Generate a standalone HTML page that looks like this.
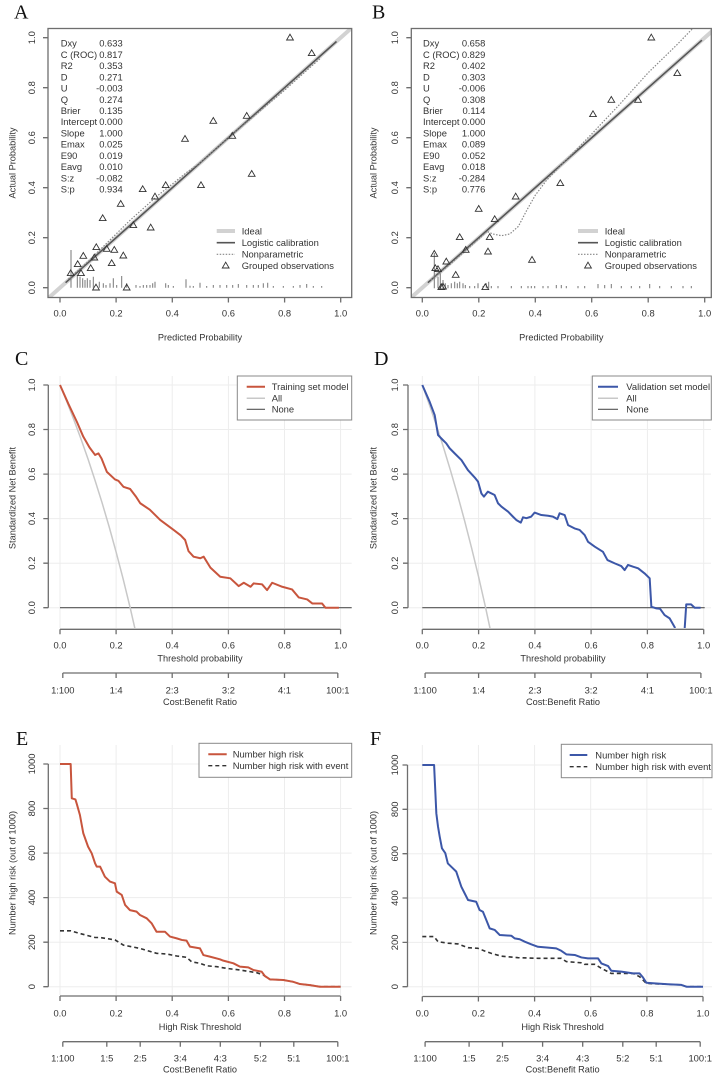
<!DOCTYPE html>
<html><head><meta charset="utf-8"><style>
html,body{margin:0;padding:0;background:#fff;}
svg{display:block;}
text{font-family:"Liberation Sans",Arial,sans-serif;fill:#333;font-size:9.4px;}
.L{font-family:"Liberation Serif","Times New Roman",serif;font-size:20px;fill:#111;}
.d polyline,.d line,.d path{vector-effect:non-scaling-stroke;}
.ax{stroke:#6e6e6e;stroke-width:1.3;fill:none;}
.gr{stroke:#ededed;stroke-width:1;fill:none;}
.tri{stroke:#333;stroke-width:0.9;fill:none;}
.rug{stroke:#777;stroke-width:1;fill:none;}
</style></head><body>
<svg width="718" height="1076" viewBox="0 0 718 1076" xmlns="http://www.w3.org/2000/svg">
<defs>
<clipPath id="cA"><rect x="48" y="28.5" width="303.7" height="269"/></clipPath>
<clipPath id="cB"><rect x="411.3" y="28.5" width="300" height="269"/></clipPath>
<clipPath id="cC"><rect x="44" y="370" width="310" height="258"/></clipPath>
<clipPath id="cD"><rect x="405" y="370" width="310" height="258"/></clipPath>
</defs>

<!-- ================= PANEL A ================= -->
<text class="L" x="14" y="18.5">A</text>
<g clip-path="url(#cA)">
<line x1="46" y1="300.2" x2="354.7" y2="25.2" stroke="#d2d2d2" stroke-width="4"/>
<line x1="65.6" y1="282.7" x2="336.5" y2="41.5" stroke="#555" stroke-width="1.6"/>
<polyline fill="none" stroke="#888" stroke-width="1.2" stroke-dasharray="1.5 1.5" points="68.4,279 88.1,261.5 102.1,247.7 116.1,234 130.2,220.2 144.2,207.7 158.2,195.2 172.3,184 186.3,172.7 200.4,162.7 228.4,137.7 256.5,114 284.6,90.2 312.6,65.2 321.1,57.7"/>
</g>
<path class="rug" d="M71 287.7V250M77.3 287.7V275M80 287.7V276.7M82.7 287.7V278.3M85 287.7V280M87.3 287.7V278.3M90 287.7V280M93.3 287.7V276.7M99.3 287.7V281.7M103.3 287.7V283.3M106 287.7V285M110 287.7V283.3M113.3 287.7V278.3M116.7 287.7V285M121.7 287.7V276M126.7 287.7V283.3M136 287.7V285M140 287.7V286M143.3 287.7V285M146.7 287.7V285M150 287.7V285M152.7 287.7V283.3M155 287.7V281.7M165.7 287.7V283.3M168.3 287.7V285M173.3 287.7V286M186 287.7V279.3M190 287.7V285.7M193.3 287.7V286M200 287.7V282.7M206.7 287.7V286M213.3 287.7V285M220 287.7V285M226.7 287.7V285M232.7 287.7V285M238.3 287.7V284M246.7 287.7V285M253.3 287.7V285M258.3 287.7V285M263.3 287.7V283.3M267.7 287.7V282.7M273.3 287.7V286M283.3 287.7V286M293.3 287.7V286M300 287.7V285M306.7 287.7V284M313.3 287.7V286M321.7 287.7V286"/>
<path class="tri" d="M290 37.7m0-3.5l3.4 5.8h-6.8zM311.7 53.3m0-3.5l3.4 5.8h-6.8zM213.3 121m0-3.5l3.4 5.8h-6.8zM185 139m0-3.5l3.4 5.8h-6.8zM232.3 136m0-3.5l3.4 5.8h-6.8zM246.7 116m0-3.5l3.4 5.8h-6.8zM201 185.3m0-3.5l3.4 5.8h-6.8zM251.7 174m0-3.5l3.4 5.8h-6.8zM165.7 185.3m0-3.5l3.4 5.8h-6.8zM155 196.7m0-3.5l3.4 5.8h-6.8zM142.7 189.3m0-3.5l3.4 5.8h-6.8zM120.7 204m0-3.5l3.4 5.8h-6.8zM102.7 218.3m0-3.5l3.4 5.8h-6.8zM133.3 225.3m0-3.5l3.4 5.8h-6.8zM150.7 227.7m0-3.5l3.4 5.8h-6.8zM106.7 249m0-3.5l3.4 5.8h-6.8zM114.3 250m0-3.5l3.4 5.8h-6.8zM96.3 247.3m0-3.5l3.4 5.8h-6.8zM83.3 256m0-3.5l3.4 5.8h-6.8zM77.7 264.3m0-3.5l3.4 5.8h-6.8zM90.7 268.3m0-3.5l3.4 5.8h-6.8zM94.3 257.7m0-3.5l3.4 5.8h-6.8zM123.3 255.7m0-3.5l3.4 5.8h-6.8zM111.7 263.3m0-3.5l3.4 5.8h-6.8zM70.7 273.3m0-3.5l3.4 5.8h-6.8zM81 273.3m0-3.5l3.4 5.8h-6.8zM96 287.7m0-3.5l3.4 5.8h-6.8zM126.7 287.7m0-3.5l3.4 5.8h-6.8z"/>
<rect x="48" y="28.5" width="303.7" height="269" class="ax"/>
<path class="ax" d="M60 297.5v5M116.1 297.5v5M172.3 297.5v5M228.4 297.5v5M284.6 297.5v5M340.7 297.5v5M48 287.7h-5M48 237.7h-5M48 187.7h-5M48 137.7h-5M48 87.7h-5M48 37.7h-5"/>
<g text-anchor="middle">
<text x="60" y="316.7">0.0</text><text x="116.1" y="316.7">0.2</text><text x="172.3" y="316.7">0.4</text><text x="228.4" y="316.7">0.6</text><text x="284.6" y="316.7">0.8</text><text x="340.7" y="316.7">1.0</text>
<text transform="translate(35.1,287.7) rotate(-90)">0.0</text><text transform="translate(35.1,237.7) rotate(-90)">0.2</text><text transform="translate(35.1,187.7) rotate(-90)">0.4</text><text transform="translate(35.1,137.7) rotate(-90)">0.6</text><text transform="translate(35.1,87.7) rotate(-90)">0.8</text><text transform="translate(35.1,37.7) rotate(-90)">1.0</text>
<text x="200" y="340.5" style="font-size:9.2px">Predicted Probability</text>
<text transform="translate(15.5,163) rotate(-90)" style="font-size:9.2px">Actual Probability</text>
</g>
<g style="font-size:9.3px">
<text x="60.7" y="46.6">Dxy</text><text x="60.7" y="57.8">C (ROC)</text><text x="60.7" y="69.1">R2</text><text x="60.7" y="80.3">D</text><text x="60.7" y="91.5">U</text><text x="60.7" y="102.8">Q</text><text x="60.7" y="114">Brier</text><text x="60.7" y="125.2">Intercept</text><text x="60.7" y="136.4">Slope</text><text x="60.7" y="147.7">Emax</text><text x="60.7" y="158.9">E90</text><text x="60.7" y="170.1">Eavg</text><text x="60.7" y="181.4">S:z</text><text x="60.7" y="192.6">S:p</text>
</g>
<g style="font-size:9.3px" text-anchor="end">
<text x="122.7" y="46.6">0.633</text><text x="122.7" y="57.8">0.817</text><text x="122.7" y="69.1">0.353</text><text x="122.7" y="80.3">0.271</text><text x="122.7" y="91.5">-0.003</text><text x="122.7" y="102.8">0.274</text><text x="122.7" y="114">0.135</text><text x="122.7" y="125.2">0.000</text><text x="122.7" y="136.4">1.000</text><text x="122.7" y="147.7">0.025</text><text x="122.7" y="158.9">0.019</text><text x="122.7" y="170.1">0.010</text><text x="122.7" y="181.4">-0.082</text><text x="122.7" y="192.6">0.934</text>
</g>
<line x1="216.7" y1="231" x2="235" y2="231" stroke="#d2d2d2" stroke-width="4"/>
<line x1="216.7" y1="242.7" x2="235" y2="242.7" stroke="#555" stroke-width="1.6"/>
<line x1="216.7" y1="254.3" x2="235" y2="254.3" stroke="#888" stroke-width="1.2" stroke-dasharray="1.5 1.5"/>
<path class="tri" d="M225.7 265.7m0-3.5l3.4 5.8h-6.8z"/>
<g style="font-size:9.3px">
<text x="241.7" y="234.3">Ideal</text><text x="241.7" y="246">Logistic calibration</text><text x="241.7" y="257.6">Nonparametric</text><text x="241.7" y="269">Grouped observations</text>
</g>

<!-- ================= PANEL B ================= -->
<text class="L" x="372" y="18.5">B</text>
<g clip-path="url(#cB)">
<line x1="408.2" y1="300.2" x2="718.8" y2="25.2" stroke="#d2d2d2" stroke-width="4"/>
<line x1="427.9" y1="282.7" x2="701.9" y2="40.2" stroke="#555" stroke-width="1.6"/>
<polyline fill="none" stroke="#888" stroke-width="1.2" stroke-dasharray="1.5 1.5" points="430.8,280.2 450.5,264 478.8,239 487.3,231.5 492.9,234 501.4,235.7 509.8,234 518.3,226.5 526.8,210.2 535.3,195.2 546.6,180.2 563.5,162.7 591.7,134 620,104 648.2,72.7 676.5,45.2 693.4,27.7"/>
</g>
<path class="rug" d="M434.3 288.3V253M438 288.3V276.7M440.3 288.3V273.3M443 288.3V280M445.3 288.3V283.3M448 288.3V285M451.3 288.3V283.3M454.7 288.3V281.7M457.3 288.3V283.3M459.7 288.3V281.7M463 288.3V283.3M465.3 288.3V285M469.7 288.3V286M474.7 288.3V286M478 288.3V283.3M483 288.3V286M486.3 288.3V283.3M488.7 288.3V281.7M491.3 288.3V286M498 288.3V286M511.3 288.3V286M521.3 288.3V286M528 288.3V286M531.3 288.3V286M534.7 288.3V286M543 288.3V286M548 288.3V286M556.3 288.3V285M561.3 288.3V285M566.3 288.3V286M578 288.3V286M584.7 288.3V286M598 288.3V284M604.7 288.3V285M611.3 288.3V284M621.3 288.3V286M631.3 288.3V286M639.7 288.3V286M649.7 288.3V284M659.7 288.3V286M671.3 288.3V286M683 288.3V286M691.3 288.3V286"/>
<path class="tri" d="M651.3 37.7m0-3.5l3.4 5.8h-6.8zM677.3 73.3m0-3.5l3.4 5.8h-6.8zM611.3 100m0-3.5l3.4 5.8h-6.8zM638 100m0-3.5l3.4 5.8h-6.8zM593 114.3m0-3.5l3.4 5.8h-6.8zM560.3 183.3m0-3.5l3.4 5.8h-6.8zM515.7 196.7m0-3.5l3.4 5.8h-6.8zM478.7 209m0-3.5l3.4 5.8h-6.8zM494.7 219.3m0-3.5l3.4 5.8h-6.8zM459.7 237.3m0-3.5l3.4 5.8h-6.8zM489.7 237.3m0-3.5l3.4 5.8h-6.8zM465.7 250m0-3.5l3.4 5.8h-6.8zM488 251.7m0-3.5l3.4 5.8h-6.8zM532 260m0-3.5l3.4 5.8h-6.8zM446.3 261.7m0-3.5l3.4 5.8h-6.8zM434.3 254m0-3.5l3.4 5.8h-6.8zM455.7 275m0-3.5l3.4 5.8h-6.8zM435.3 268.3m0-3.5l3.4 5.8h-6.8zM438 269.3m0-3.5l3.4 5.8h-6.8zM443 286.7m0-3.5l3.4 5.8h-6.8zM485.3 287.3m0-3.5l3.4 5.8h-6.8zM441.3 287.3m0-3.5l3.4 5.8h-6.8z"/>
<rect x="411.3" y="28.5" width="300" height="269" class="ax"/>
<path class="ax" d="M422.3 297.5v5M478.8 297.5v5M535.3 297.5v5M591.7 297.5v5M648.2 297.5v5M704.7 297.5v5M411.3 287.7h-5M411.3 237.7h-5M411.3 187.7h-5M411.3 137.7h-5M411.3 87.7h-5M411.3 37.7h-5"/>
<g text-anchor="middle">
<text x="422.3" y="316.7">0.0</text><text x="478.8" y="316.7">0.2</text><text x="535.3" y="316.7">0.4</text><text x="591.7" y="316.7">0.6</text><text x="648.2" y="316.7">0.8</text><text x="704.7" y="316.7">1.0</text>
<text transform="translate(398.1,287.7) rotate(-90)">0.0</text><text transform="translate(398.1,237.7) rotate(-90)">0.2</text><text transform="translate(398.1,187.7) rotate(-90)">0.4</text><text transform="translate(398.1,137.7) rotate(-90)">0.6</text><text transform="translate(398.1,87.7) rotate(-90)">0.8</text><text transform="translate(398.1,37.7) rotate(-90)">1.0</text>
<text x="561.3" y="340.5" style="font-size:9.2px">Predicted Probability</text>
<text transform="translate(376.5,163) rotate(-90)" style="font-size:9.2px">Actual Probability</text>
</g>
<g style="font-size:9.3px">
<text x="423" y="46.6">Dxy</text><text x="423" y="57.8">C (ROC)</text><text x="423" y="69.1">R2</text><text x="423" y="80.3">D</text><text x="423" y="91.5">U</text><text x="423" y="102.8">Q</text><text x="423" y="114">Brier</text><text x="423" y="125.2">Intercept</text><text x="423" y="136.4">Slope</text><text x="423" y="147.7">Emax</text><text x="423" y="158.9">E90</text><text x="423" y="170.1">Eavg</text><text x="423" y="181.4">S:z</text><text x="423" y="192.6">S:p</text>
</g>
<g style="font-size:9.3px" text-anchor="end">
<text x="485.3" y="46.6">0.658</text><text x="485.3" y="57.8">0.829</text><text x="485.3" y="69.1">0.402</text><text x="485.3" y="80.3">0.303</text><text x="485.3" y="91.5">-0.006</text><text x="485.3" y="102.8">0.308</text><text x="485.3" y="114">0.114</text><text x="485.3" y="125.2">0.000</text><text x="485.3" y="136.4">1.000</text><text x="485.3" y="147.7">0.089</text><text x="485.3" y="158.9">0.052</text><text x="485.3" y="170.1">0.018</text><text x="485.3" y="181.4">-0.284</text><text x="485.3" y="192.6">0.776</text>
</g>
<line x1="578" y1="231" x2="598" y2="231" stroke="#d2d2d2" stroke-width="4"/>
<line x1="578" y1="242.7" x2="598" y2="242.7" stroke="#555" stroke-width="1.6"/>
<line x1="578" y1="254.3" x2="598" y2="254.3" stroke="#888" stroke-width="1.2" stroke-dasharray="1.5 1.5"/>
<path class="tri" d="M588 265.7m0-3.5l3.4 5.8h-6.8z"/>
<g style="font-size:9.3px">
<text x="604.7" y="234.3">Ideal</text><text x="604.7" y="246">Logistic calibration</text><text x="604.7" y="257.6">Nonparametric</text><text x="604.7" y="269">Grouped observations</text>
</g>

<!-- ================= PANEL C ================= -->
<text class="L" x="15" y="365">C</text>
<path class="gr" d="M60 376V628M116.1 376V628M172.2 376V628M228.4 376V628M284.5 376V628M340.6 376V628M48.3 607.7H351.7M48.3 563.2H351.7M48.3 518.6H351.7M48.3 474.1H351.7M48.3 429.5H351.7M48.3 385H351.7"/>
<line x1="60" y1="607.7" x2="351.7" y2="607.7" stroke="#555" stroke-width="1.2"/>
<g clip-path="url(#cC)">
<g class="d" transform="translate(60,607.7) scale(280.6,-222.7)">
<polyline fill="none" stroke="#c8c8c8" stroke-width="1.5" points="0,1 0.025,0.923 0.05,0.842 0.075,0.757 0.1,0.667 0.125,0.571 0.15,0.471 0.175,0.364 0.2,0.25 0.225,0.129 0.25,0 0.27,-0.11 0.28,-0.17"/>
<polyline fill="none" stroke="#c8553d" stroke-width="2" stroke-linejoin="round" points="0,1 0.03,0.915 0.06,0.835 0.083,0.768 0.105,0.72 0.125,0.686 0.137,0.693 0.148,0.67 0.167,0.61 0.196,0.576 0.208,0.57 0.226,0.543 0.25,0.533 0.27,0.5 0.286,0.469 0.32,0.44 0.357,0.394 0.405,0.349 0.43,0.325 0.446,0.304 0.458,0.254 0.476,0.229 0.5,0.222 0.512,0.229 0.536,0.18 0.571,0.139 0.607,0.132 0.637,0.097 0.655,0.112 0.679,0.094 0.69,0.109 0.72,0.105 0.738,0.079 0.756,0.112 0.792,0.094 0.827,0.082 0.851,0.046 0.881,0.037 0.899,0.019 0.934,0.019 0.946,0 0.994,0"/>
</g>
</g>
<path class="ax" d="M48.3 385V607.7M48.3 607.7h-5M48.3 563.2h-5M48.3 518.6h-5M48.3 474.1h-5M48.3 429.5h-5M48.3 385h-5"/>
<path class="ax" d="M60 629.3H340.6M60 629.3v5M116.1 629.3v5M172.2 629.3v5M228.4 629.3v5M284.5 629.3v5M340.6 629.3v5"/>
<path class="ax" d="M62.8 673H337.8M62.8 673v5M116.1 673v5M172.2 673v5M228.4 673v5M284.5 673v5M337.8 673v5"/>
<g text-anchor="middle">
<text transform="translate(35.1,607.7) rotate(-90)">0.0</text><text transform="translate(35.1,563.2) rotate(-90)">0.2</text><text transform="translate(35.1,518.6) rotate(-90)">0.4</text><text transform="translate(35.1,474.1) rotate(-90)">0.6</text><text transform="translate(35.1,429.5) rotate(-90)">0.8</text><text transform="translate(35.1,385) rotate(-90)">1.0</text>
<text transform="translate(15.5,498) rotate(-90)" style="font-size:9.2px">Standardized Net Benefit</text>
<text x="60" y="648.4">0.0</text><text x="116.1" y="648.4">0.2</text><text x="172.2" y="648.4">0.4</text><text x="228.4" y="648.4">0.6</text><text x="284.5" y="648.4">0.8</text><text x="340.6" y="648.4">1.0</text>
<text x="200" y="661.6" style="font-size:9.2px">Threshold probability</text>
<text x="62.8" y="693.4">1:100</text><text x="116.1" y="693.4">1:4</text><text x="172.2" y="693.4">2:3</text><text x="228.4" y="693.4">3:2</text><text x="284.5" y="693.4">4:1</text><text x="337.8" y="693.4">100:1</text>
<text x="200" y="705" style="font-size:9.2px">Cost:Benefit Ratio</text>
</g>
<rect x="237.3" y="376" width="114.4" height="44" fill="#fff" stroke="#888" stroke-width="1"/>
<line x1="246.7" y1="386.7" x2="265" y2="386.7" stroke="#c8553d" stroke-width="2"/>
<line x1="246.7" y1="398.3" x2="265" y2="398.3" stroke="#c8c8c8" stroke-width="1.5"/>
<line x1="246.7" y1="409.3" x2="265" y2="409.3" stroke="#555" stroke-width="1.2"/>
<g style="font-size:9.3px"><text x="271.7" y="390">Training set model</text><text x="271.7" y="401.6">All</text><text x="271.7" y="412.6">None</text></g>

<!-- ================= PANEL D ================= -->
<text class="L" x="374" y="365">D</text>
<path class="gr" d="M422.3 376V628M478.6 376V628M534.9 376V628M591.1 376V628M647.4 376V628M703.7 376V628M408 607.7H711M408 563.2H711M408 518.6H711M408 474.1H711M408 429.5H711M408 385H711"/>
<line x1="422.3" y1="607.7" x2="704.7" y2="607.7" stroke="#555" stroke-width="1.2"/>
<g clip-path="url(#cD)">
<g class="d" transform="translate(422.3,607.7) scale(281.4,-222.7)">
<polyline fill="none" stroke="#c8c8c8" stroke-width="1.5" points="0,1 0.025,0.912 0.05,0.819 0.075,0.721 0.1,0.617 0.125,0.508 0.15,0.392 0.175,0.269 0.2,0.139 0.225,0 0.25,-0.148"/>
<polyline fill="none" stroke="#3c57a8" stroke-width="2" stroke-linejoin="round" points="0,1 0.026,0.925 0.044,0.865 0.056,0.775 0.073,0.753 0.085,0.738 0.097,0.716 0.115,0.693 0.139,0.663 0.162,0.618 0.186,0.585 0.198,0.566 0.21,0.513 0.219,0.499 0.233,0.521 0.257,0.506 0.269,0.469 0.281,0.454 0.305,0.431 0.322,0.409 0.334,0.394 0.35,0.382 0.358,0.406 0.37,0.402 0.387,0.409 0.399,0.427 0.423,0.416 0.447,0.413 0.464,0.409 0.48,0.398 0.488,0.424 0.506,0.416 0.518,0.371 0.541,0.356 0.559,0.349 0.577,0.326 0.589,0.296 0.613,0.274 0.642,0.251 0.658,0.214 0.684,0.199 0.707,0.187 0.719,0.169 0.731,0.192 0.749,0.184 0.767,0.177 0.79,0.154 0.808,0.132 0.814,0.004 0.832,-0.003 0.845,-0.005 0.861,-0.033 0.879,-0.048 0.897,-0.088 0.905,-0.14 0.93,-0.14 0.938,0.015 0.955,0.015 0.968,0 0.989,0"/>
</g>
</g>
<path class="ax" d="M408 385V607.7M408 607.7h-5M408 563.2h-5M408 518.6h-5M408 474.1h-5M408 429.5h-5M408 385h-5"/>
<path class="ax" d="M422.3 629.3H703.7M422.3 629.3v5M478.6 629.3v5M534.9 629.3v5M591.1 629.3v5M647.4 629.3v5M703.7 629.3v5"/>
<path class="ax" d="M425.1 673H700.9M425.1 673v5M478.6 673v5M534.9 673v5M591.1 673v5M647.4 673v5M700.9 673v5"/>
<g text-anchor="middle">
<text transform="translate(398.1,607.7) rotate(-90)">0.0</text><text transform="translate(398.1,563.2) rotate(-90)">0.2</text><text transform="translate(398.1,518.6) rotate(-90)">0.4</text><text transform="translate(398.1,474.1) rotate(-90)">0.6</text><text transform="translate(398.1,429.5) rotate(-90)">0.8</text><text transform="translate(398.1,385) rotate(-90)">1.0</text>
<text transform="translate(376.5,498) rotate(-90)" style="font-size:9.2px">Standardized Net Benefit</text>
<text x="422.3" y="648.4">0.0</text><text x="478.6" y="648.4">0.2</text><text x="534.9" y="648.4">0.4</text><text x="591.1" y="648.4">0.6</text><text x="647.4" y="648.4">0.8</text><text x="703.7" y="648.4">1.0</text>
<text x="563" y="661.6" style="font-size:9.2px">Threshold probability</text>
<text x="425.1" y="693.4">1:100</text><text x="478.6" y="693.4">1:4</text><text x="534.9" y="693.4">2:3</text><text x="591.1" y="693.4">3:2</text><text x="647.4" y="693.4">4:1</text><text x="700.9" y="693.4">100:1</text>
<text x="563" y="705" style="font-size:9.2px">Cost:Benefit Ratio</text>
</g>
<rect x="592.3" y="376" width="119" height="44" fill="#fff" stroke="#888" stroke-width="1"/>
<line x1="598" y1="386.7" x2="618" y2="386.7" stroke="#3c57a8" stroke-width="2"/>
<line x1="598" y1="398.3" x2="618" y2="398.3" stroke="#c8c8c8" stroke-width="1.5"/>
<line x1="598" y1="409.3" x2="618" y2="409.3" stroke="#555" stroke-width="1.2"/>
<g style="font-size:9.3px"><text x="626.3" y="390">Validation set model</text><text x="626.3" y="401.6">All</text><text x="626.3" y="412.6">None</text></g>

<!-- ================= PANEL E ================= -->
<text class="L" x="16" y="745">E</text>
<path class="gr" d="M60 745V995M116.1 745V995M172.2 745V995M228.4 745V995M284.5 745V995M340.6 745V995M48.3 986.7H351.7M48.3 942.2H351.7M48.3 897.6H351.7M48.3 853.1H351.7M48.3 808.5H351.7M48.3 764H351.7"/>
<polyline fill="none" stroke="#333" stroke-width="1.6" stroke-dasharray="4 3" points="60,930.8 70.7,930.8 79.9,933.5 95.1,937.5 100.1,937.5 115,939.9 123.4,945.1 140,948.4 156.5,953.3 166.6,954 176.7,956 186.6,957.3 191.6,961.8 200,963.3 206.8,965.8 216.9,966.7 226.7,968.4 239.9,970 256.7,972.7 263.4,975.1 269.9,979.4 283.4,980 293.2,981.8 299.9,984 310,985.1 319.8,986.7 340.6,986.7"/>
<g class="d" transform="translate(60,986.7) scale(280.6,-0.2227)">
<polyline fill="none" stroke="#c8553d" stroke-width="2" stroke-linejoin="round" points="0,1000 0.038,1000 0.042,846 0.055,841 0.06,820 0.071,771 0.083,689 0.1,629 0.113,599 0.125,554 0.131,539 0.143,539 0.16,494 0.178,472 0.196,464 0.202,427 0.22,412 0.232,367 0.249,344 0.273,337 0.285,322 0.309,307 0.327,284 0.344,247 0.374,247 0.392,225 0.416,217 0.434,210 0.451,207 0.463,180 0.499,172 0.511,142 0.534,135 0.57,123 0.582,117 0.618,105 0.641,90 0.671,87 0.689,75 0.719,67 0.73,48 0.748,33 0.796,30 0.831,22 0.855,12 0.891,7 0.926,0 1,0"/>
</g>
<path class="ax" d="M48.3 764V986.7M48.3 986.7h-5M48.3 942.2h-5M48.3 897.6h-5M48.3 853.1h-5M48.3 808.5h-5M48.3 764h-5"/>
<path class="ax" d="M60 996H340.6M60 996v5M116.1 996v5M172.2 996v5M228.4 996v5M284.5 996v5M340.6 996v5"/>
<path class="ax" d="M62.8 1041.7H337.8M62.8 1041.7v5M106.8 1041.7v5M140.2 1041.7v5M180.3 1041.7v5M220.3 1041.7v5M260.4 1041.7v5M293.8 1041.7v5M337.8 1041.7v5"/>
<g text-anchor="middle">
<text transform="translate(35.1,986.7) rotate(-90)">0</text><text transform="translate(35.1,942.2) rotate(-90)">200</text><text transform="translate(35.1,897.6) rotate(-90)">400</text><text transform="translate(35.1,853.1) rotate(-90)">600</text><text transform="translate(35.1,808.5) rotate(-90)">800</text><text transform="translate(35.1,764) rotate(-90)">1000</text>
<text transform="translate(15.5,873) rotate(-90)" style="font-size:9.2px">Number high risk (out of 1000)</text>
<text x="60" y="1016.7">0.0</text><text x="116.1" y="1016.7">0.2</text><text x="172.2" y="1016.7">0.4</text><text x="228.4" y="1016.7">0.6</text><text x="284.5" y="1016.7">0.8</text><text x="340.6" y="1016.7">1.0</text>
<text x="200" y="1030" style="font-size:9.2px">High Risk Threshold</text>
<text x="62.8" y="1061.7">1:100</text><text x="106.8" y="1061.7">1:5</text><text x="140.2" y="1061.7">2:5</text><text x="180.3" y="1061.7">3:4</text><text x="220.3" y="1061.7">4:3</text><text x="260.4" y="1061.7">5:2</text><text x="293.8" y="1061.7">5:1</text><text x="337.8" y="1061.7">100:1</text>
<text x="200" y="1072.7" style="font-size:9.2px">Cost:Benefit Ratio</text>
</g>
<rect x="199" y="743.3" width="152.7" height="34" fill="#fff" stroke="#888" stroke-width="1"/>
<line x1="208.3" y1="754.3" x2="226.7" y2="754.3" stroke="#c8553d" stroke-width="2"/>
<line x1="208.3" y1="765.7" x2="226.7" y2="765.7" stroke="#333" stroke-width="1.4" stroke-dasharray="4 3"/>
<g style="font-size:9.3px"><text x="232.7" y="757.6">Number high risk</text><text x="232.7" y="769">Number high risk with event</text></g>

<!-- ================= PANEL F ================= -->
<text class="L" x="370" y="745">F</text>
<path class="gr" d="M422.3 745V995M478.4 745V995M534.6 745V995M590.7 745V995M646.9 745V995M703 745V995M407.5 986.7H712M407.5 942.4H712M407.5 898H712M407.5 853.7H712M407.5 809.3H712M407.5 765H712"/>
<polyline fill="none" stroke="#333" stroke-width="1.6" stroke-dasharray="4 3" points="422.3,936.6 434.1,936.6 438,941.7 447.8,943.2 457.9,943.9 468.1,947.7 477.9,948.3 484.6,951 491.4,953.4 501.2,956.1 518,957.7 538,958.3 561.2,958.3 566.3,961.6 581.5,962.8 584.5,964.3 594.6,964.3 601.4,968.3 611.2,973.4 633.1,973.4 639.6,976.7 646.3,983.4 667.9,984.3 681.4,984.9 686.4,986.7 703,986.7"/>
<g class="d" transform="translate(422.3,986.7) scale(280.7,-0.2217)">
<polyline fill="none" stroke="#3c57a8" stroke-width="2" stroke-linejoin="round" points="0,1000 0.042,1000 0.05,782 0.056,722 0.062,677 0.07,624 0.082,602 0.091,556 0.109,534 0.121,519 0.139,451 0.151,421 0.163,391 0.192,383 0.204,346 0.216,338 0.228,301 0.24,263 0.258,256 0.276,233 0.317,230 0.329,218 0.347,214 0.365,203 0.388,191 0.412,180 0.448,176 0.477,173 0.495,162 0.513,146 0.543,143 0.567,132 0.59,128 0.626,128 0.638,105 0.662,93 0.673,72 0.709,68 0.751,60 0.774,60 0.786,42 0.798,18 0.828,15 0.875,11 0.923,8 0.941,0 1,0"/>
</g>
<path class="ax" d="M407.5 765V986.7M407.5 986.7h-5M407.5 942.4h-5M407.5 898h-5M407.5 853.7h-5M407.5 809.3h-5M407.5 765h-5"/>
<path class="ax" d="M422.3 996.5H703M422.3 996.5v5M478.4 996.5v5M534.6 996.5v5M590.7 996.5v5M646.9 996.5v5M703 996.5v5"/>
<path class="ax" d="M425.1 1041.7H700.2M425.1 1041.7v5M469.1 1041.7v5M502.5 1041.7v5M542.6 1041.7v5M582.7 1041.7v5M622.8 1041.7v5M656.2 1041.7v5M700.2 1041.7v5"/>
<g text-anchor="middle">
<text transform="translate(398.1,986.7) rotate(-90)">0</text><text transform="translate(398.1,942.4) rotate(-90)">200</text><text transform="translate(398.1,898) rotate(-90)">400</text><text transform="translate(398.1,853.7) rotate(-90)">600</text><text transform="translate(398.1,809.3) rotate(-90)">800</text><text transform="translate(398.1,765) rotate(-90)">1000</text>
<text transform="translate(376.5,873) rotate(-90)" style="font-size:9.2px">Number high risk (out of 1000)</text>
<text x="422.3" y="1016.7">0.0</text><text x="478.4" y="1016.7">0.2</text><text x="534.6" y="1016.7">0.4</text><text x="590.7" y="1016.7">0.6</text><text x="646.9" y="1016.7">0.8</text><text x="703" y="1016.7">1.0</text>
<text x="562.6" y="1030" style="font-size:9.2px">High Risk Threshold</text>
<text x="425.1" y="1061.7">1:100</text><text x="469.1" y="1061.7">1:5</text><text x="502.5" y="1061.7">2:5</text><text x="542.6" y="1061.7">3:4</text><text x="582.7" y="1061.7">4:3</text><text x="622.8" y="1061.7">5:2</text><text x="656.2" y="1061.7">5:1</text><text x="700.2" y="1061.7">100:1</text>
<text x="562.6" y="1072.7" style="font-size:9.2px">Cost:Benefit Ratio</text>
</g>
<rect x="561.3" y="744.3" width="150.7" height="33.4" fill="#fff" stroke="#888" stroke-width="1"/>
<line x1="569.7" y1="755" x2="587.3" y2="755" stroke="#3c57a8" stroke-width="2"/>
<line x1="569.7" y1="766.7" x2="587.3" y2="766.7" stroke="#333" stroke-width="1.4" stroke-dasharray="4 3"/>
<g style="font-size:9.3px"><text x="595.3" y="758.3">Number high risk</text><text x="595.3" y="770">Number high risk with event</text></g>
</svg>
</body></html>
